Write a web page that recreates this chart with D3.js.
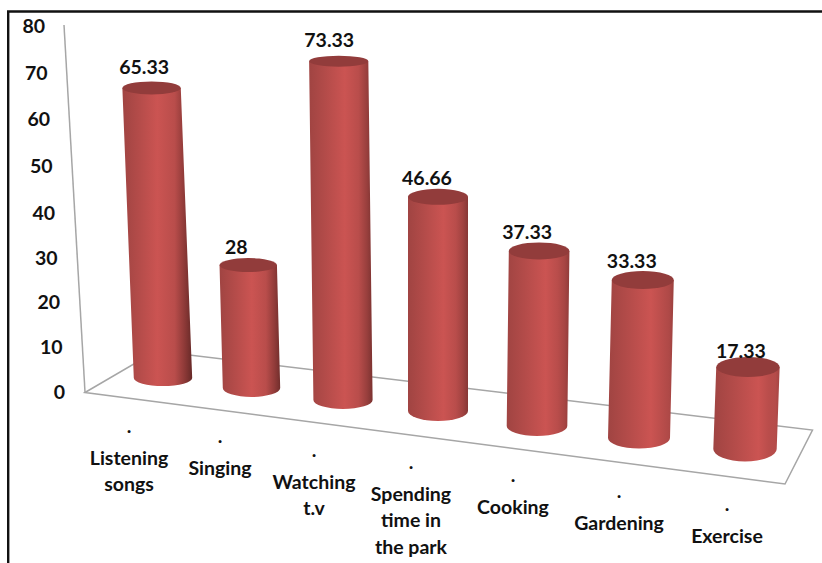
<!DOCTYPE html>
<html>
<head>
<meta charset="utf-8">
<script src="https://cdn.jsdelivr.net/npm/d3@7"></script>
<style>
  html, body { margin: 0; padding: 0; background: #fff; }
  svg { display: block; }
  text { font-family: Lato, "Open Sans", sans-serif; font-weight: 700; fill: #111; font-size: 19.5px; }
</style>
</head>
<body>
<div id="chart"></div>
<script>
// Activities and their percentages
var categories = ["Listening songs", "Singing", "Watching t.v", "Spending time in the park", "Cooking", "Gardening", "Exercise"];
var categoryLines = [["Listening", "songs"], ["Singing"], ["Watching", "t.v"], ["Spending", "time in", "the park"], ["Cooking"], ["Gardening"], ["Exercise"]];
var values = [65.33, 28, 73.33, 46.66, 37.33, 33.33, 17.33];
var valueLabels = ["65.33", "28", "73.33", "46.66", "37.33", "33.33", "17.33"];
var axisTicks = [0, 10, 20, 30, 40, 50, 60, 70, 80];

var width = 822, height = 563;

var svg = d3.select("#chart").append("svg")
  .attr("width", width)
  .attr("height", height);

var idx = categories.map(function (d, i) { return i; });

// Outer frame, open at the bottom and right
svg.append("path")
  .attr("d", "M8.2 563 V11.5 H822")
  .attr("fill", "none")
  .attr("stroke", "#111")
  .attr("stroke-width", 2.4);

// ****************** Perspective scales ***************************
// Bars get further apart and larger towards the viewer, so every
// scale here is piecewise over the bar position
var baseX = d3.scaleLinear().domain(idx).range([163, 251.5, 343, 438, 537, 639, 745]);
var baseY = d3.scaleLinear().domain(idx).range([378, 388, 400, 411, 426, 438, 449]);
var unitHeight = d3.scaleLinear().domain(idx).range([4.44, 4.39, 4.62, 4.59, 4.69, 4.74, 4.73]);
var lean = d3.scaleLinear().domain([0, 3, 6]).range([-0.175, 0, 0.17]);
var radius = d3.scaleLinear().domain(idx).range([29.2, 28.7, 29.6, 30, 30.3, 31, 31.7]);
var baseRy = d3.scaleLinear().domain(idx).range([8, 9, 9, 10, 10, 10.5, 12.5]);
var topRy = d3.scaleLinear().domain(idx).range([6.5, 7, 5.5, 8, 8.5, 9, 10]);

// Value labels sit up and to the left of each bar top
var labelDx = d3.scaleLinear().domain(idx).range([-7.5, -12, -9.5, -11, -12, -11, -7]);
var labelDy = d3.scaleLinear().domain(idx).range([-21, -18, -21, -19, -19, -19, -16]);

function yScale(i) {
  return d3.scaleLinear().domain([0, 80]).range([baseY(i), baseY(i) - 80 * unitHeight(i)]);
}

// Value axis leans away from the floor corner
var axisY = d3.scaleLinear().domain([0, 40, 80]).range([392, 213, 25]);
var axisX = d3.scaleLinear().domain([0, 80]).range([85, 64]);
var tickY = d3.scaleLinear().domain([0, 40, 80]).range([392, 213, 26]);
var tickX = d3.scaleLinear().domain([0, 80]).range([65, 45]);

// Cylinder shading: the highlight slides right and the far edge
// gets lighter as the bars move across the floor
var defs = svg.append("defs");
var highlight = d3.scaleLinear().domain([0, 6]).range([0.5, 0.68]);
var rightEdge = d3.scaleLinear().domain([0, 6]).range(["#662927", "#a54543"]);
var rightShoulder = d3.scaleLinear().domain([0, 6]).range(["#8a3836", "#b54c4a"]);

idx.forEach(function (i) {
  var grad = defs.append("linearGradient").attr("id", "cyl" + i);
  var h = highlight(i);
  [[0, "#a04442"], [h * 0.5, "#b54c4a"], [h, "#cb5452"], [h + (1 - h) * 0.5, "#b94d4b"], [h + (1 - h) * 0.8, rightShoulder(i)], [1, rightEdge(i)]].forEach(function (s) {
    grad.append("stop").attr("offset", s[0]).attr("stop-color", s[1]);
  });
});

// Floor
svg.append("path")
  .attr("d", "M85 392.5 L156 351 L812.5 430 L785 484 Z")
  .attr("fill", "#fff")
  .attr("stroke", "#a6a6a6")
  .attr("stroke-width", 1.5);

svg.append("line")
  .attr("x1", axisX(0)).attr("y1", axisY(0))
  .attr("x2", axisX(80)).attr("y2", axisY(80))
  .attr("stroke", "#a6a6a6")
  .attr("stroke-width", 1.5);

svg.selectAll("text.tick")
  .data(axisTicks)
  .enter().append("text")
  .attr("class", "tick")
  .attr("x", function (d) { return tickX(d); })
  .attr("y", function (d) { return tickY(d); })
  .attr("dy", ".35em")
  .attr("text-anchor", "end")
  .text(function (d) { return d; });

// ****************** Bars ***************************
var bar = svg.selectAll("g.bar")
  .data(idx)
  .enter().append("g")
  .attr("class", "bar");

function topX(i) { return baseX(i) + lean(i) * values[i]; }

bar.append("path")
  .attr("fill", function (i) { return "url(#cyl" + i + ")"; })
  .attr("d", function (i) {
    var r = radius(i), y = yScale(i), by = y(0), ty = y(values[i]);
    var bx = baseX(i), tx = topX(i);
    return "M" + (tx - r) + " " + ty +
      " L" + (bx - r) + " " + by +
      " A" + r + " " + baseRy(i) + " 0 0 0 " + (bx + r) + " " + by +
      " L" + (tx + r) + " " + ty + " Z";
  });

bar.append("ellipse")
  .attr("fill", "#923c3b")
  .attr("cx", topX)
  .attr("cy", function (i) { return yScale(i)(values[i]); })
  .attr("rx", radius)
  .attr("ry", topRy);

// Value labels
bar.append("text")
  .attr("text-anchor", "middle")
  .attr("x", function (i) { return topX(i) + labelDx(i); })
  .attr("y", function (i) { return yScale(i)(values[i]) + labelDy(i); })
  .attr("dy", ".35em")
  .text(function (i) { return valueLabels[i]; });

// ****************** Category labels ***************************
var labelX = d3.scaleLinear().domain(idx).range([129, 220, 314, 411, 513, 619, 727]);
var dotY = d3.scaleLinear().domain(idx).range([431, 441, 455, 467, 480, 496, 509]);
var lineHeight = 26.8;

var label = svg.selectAll("g.cat")
  .data(idx)
  .enter().append("g")
  .attr("class", "cat")
  .attr("transform", function (i) { return "translate(" + labelX(i) + "," + dotY(i) + ")"; });

label.append("text")
  .attr("text-anchor", "middle")
  .attr("dy", ".1em")
  .text(".");

label.each(function (i) {
  d3.select(this).selectAll("text.line")
    .data(categoryLines[i])
    .enter().append("text")
    .attr("class", "line")
    .attr("text-anchor", "middle")
    .attr("y", function (d, k) { return (k + 1) * lineHeight; })
    .attr("dy", ".35em")
    .text(function (d) { return d; });
});
</script>
</body>
</html>
